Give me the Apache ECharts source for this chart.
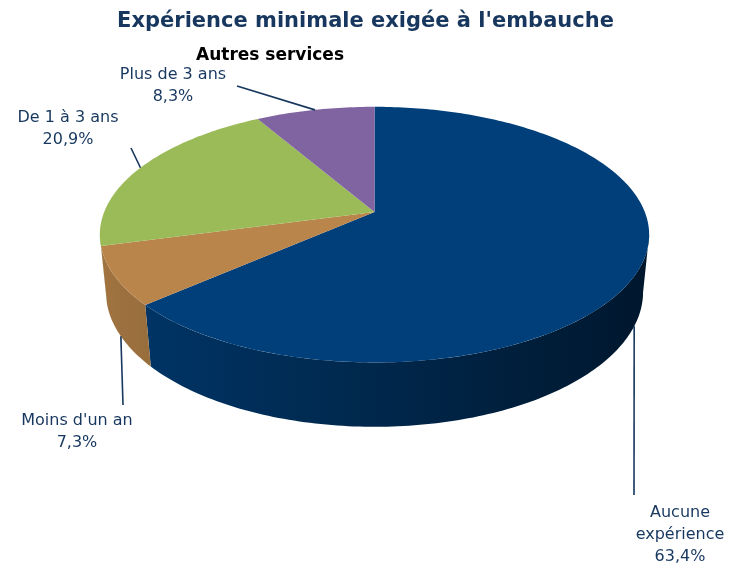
<!DOCTYPE html>
<html>
<head>
<meta charset="utf-8">
<script src="https://cdn.jsdelivr.net/npm/echarts@6/dist/echarts.min.js"></script>
<style>
  html, body {margin: 0; padding: 0; background: #fff;}
  #chart {width: 731px; height: 565px;}
</style>
</head>
<body>
<div id="chart"></div>
<script>
// data
const categories = ['Aucune expérience', "Moins d'un an", 'De 1 à 3 ans', 'Plus de 3 ans']
const labelNames = ['Aucune\nexpérience', "Moins d'un an", 'De 1 à 3 ans', 'Plus de 3 ans']
const values = [63.4, 7.3, 20.9, 8.3]

const sliceColors = ['#003f7a', '#b9854a', '#9bbb59', '#8064a2']
const textColor = '#17375e'

// label block centres and leader line end points (layout only)
const labelPos = [[680, 535], [77, 432], [68, 129], [173, 86]]
const leaderEnd = [[634, 495], [123, 405], [131, 148], [237, 86]]

// simple perspective camera for the tilted disc
const CX = 374.5, CY = 212, F = 1357, D = 5.02
const SIN = 0.458, COS = 0.889, H = 0.24
const rad = Math.PI / 180

const proj = (a, h) => {
  const X = Math.sin(a * rad), Z = -Math.cos(a * rad)
  const yc = h * COS - Z * SIN
  const depth = D - (h * SIN + Z * COS)
  return [CX + F * X / depth, CY - F * yc / depth]
}

const shade = (hex, k) => {
  const n = parseInt(hex.slice(1), 16)
  const r = Math.round(((n >> 16) & 255) * k)
  const g = Math.round(((n >> 8) & 255) * k)
  const b = Math.round((n & 255) * k)
  return `rgb(${r},${g},${b})`
}

const total = values.reduce((s, v) => s + v, 0)
const starts = []
let acc = 0
values.forEach(v => { starts.push(acc / total * 360); acc += v })

// wall is visible only on the near side of the silhouette
const visMin = Math.acos(-COS / D) / rad
const visMax = 360 - visMin

const renderSlice = (params, api) => {
  const i = params.dataIndex
  const a0 = starts[i]
  const a1 = a0 + api.value(1) / total * 360
  const color = sliceColors[i]
  const children = []

  // outer wall, shaded darker towards the right
  const w0 = Math.max(a0, visMin), w1 = Math.min(a1, visMax)
  if (w1 > w0) {
    const n = Math.max(2, Math.ceil((w1 - w0) / 1))
    const top = [], bottom = []
    for (let j = 0; j <= n; j++) {
      const a = w0 + (w1 - w0) * j / n
      top.push(proj(a, 0))
      bottom.push(proj(a, -H))
    }
    const xs = top.concat(bottom).map(p => p[0])
    const xl = Math.min(...xs), xr = Math.max(...xs)
    const stops = []
    for (let k = 0; k <= 10; k++) {
      const x = xl + (xr - xl) * k / 10
      const X = (x - CX) / 275
      stops.push({offset: k / 10, color: shade(color, 0.62 - 0.25 * X)})
    }
    children.push({
      type: 'polygon',
      shape: {points: top.concat(bottom.reverse())},
      style: {
        fill: {type: 'linear', x: xl, y: 0, x2: xr, y2: 0, global: true, colorStops: stops}
      }
    })
  }

  // top face
  const pts = [[CX, CY]]
  const steps = Math.max(2, Math.ceil(a1 - a0))
  for (let j = 0; j <= steps; j++) pts.push(proj(a0 + (a1 - a0) * j / steps, 0))
  children.push({type: 'polygon', shape: {points: pts}, style: {fill: color}})

  // leader line + label
  const mid = (a0 + a1) / 2
  const near = -Math.cos(mid * rad) > COS / D
  const anchor = proj(mid, near ? -H : 0)
  children.push({
    type: 'line',
    shape: {x1: anchor[0], y1: anchor[1], x2: leaderEnd[i][0], y2: leaderEnd[i][1]},
    style: {stroke: textColor, lineWidth: 1.6}
  })
  children.push({
    type: 'text',
    style: {
      text: labelNames[i] + '\n' + api.value(1).toFixed(1).replace('.', ',') + '%',
      x: labelPos[i][0], y: labelPos[i][1],
      align: 'center', verticalAlign: 'middle',
      fontSize: 16, fontFamily: 'DejaVu Sans', lineHeight: 22, fill: textColor
    }
  })
  return {type: 'group', children}
}

const chart = echarts.init(document.getElementById('chart'))
chart.setOption({
  animation: false,
  backgroundColor: '#fff',
  title: [{
    text: "Expérience minimale exigée à l'embauche",
    left: 'center', top: 6,
    textStyle: {fontSize: 21, fontWeight: 'bold', fontFamily: 'DejaVu Sans', color: textColor}
  }, {
    text: 'Autres services',
    left: 191, top: 42,
    textStyle: {fontSize: 17, fontWeight: 'bold', fontFamily: 'DejaVu Sans', color: '#000'}
  }],
  series: [{
    type: 'custom',
    coordinateSystem: 'none',
    renderItem: renderSlice,
    data: categories.map((c, i) => ({name: c, value: [i, values[i]]}))
  }]
})
</script>
</body>
</html>
